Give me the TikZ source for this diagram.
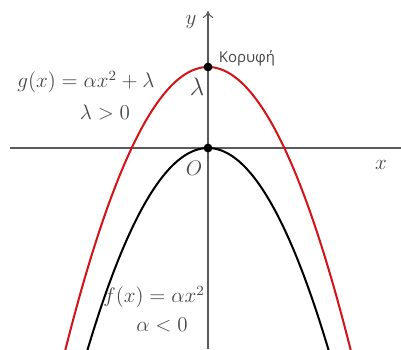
\documentclass[tikz,border=0pt]{standalone}
\usepackage{fontspec}
\newfontfamily\grsans{Open Sans}
\usetikzlibrary{arrows.meta}
\definecolor{cred}{RGB}{210,20,25}
\definecolor{ctext}{RGB}{70,70,70}
\definecolor{caxis}{RGB}{90,90,90}
\tikzset{
  axisline/.style={draw=caxis, line width=0.6pt},
  curve/.style={line width=1.15pt},
  dotnode/.style={circle, fill=black, inner sep=0pt, minimum size=5pt},
  lbl/.style={text=ctext, font=\fontsize{11.5}{13}\selectfont, inner sep=0pt},
}
\begin{document}
\begin{tikzpicture}[x=0.02cm, y=0.02cm]
\useasboundingbox (-208,-201) rectangle (193,148);
\clip (-208,-201) rectangle (193,148);
\coordinate (xl) at (-198,0);
\coordinate (xr) at (193,0);
\coordinate (yb) at (0,-201);
\coordinate (yt) at (0,137);
\draw[axisline] (xl) -- (xr);
\draw[axisline, -{To[length=4pt,width=6pt]}] (yb) -- (yt);
\draw[curve, cred] plot[domain=-145:145, samples=120] (\x, {81-1.39*(\x/10)*(\x/10)});
\draw[curve, black] plot[domain=-125:125, samples=120] (\x, {-1.39*(\x/10)*(\x/10)});
\node[dotnode] (V) at (0,81) {};
\node[dotnode] (O0) at (0,0) {};
\node[lbl] (ylab) at (-17,126) {$y$};
\node[lbl] (xlab) at (173,-17) {$x$};
\node[lbl] (olab) at (-14,-20) {$O$};
\node[lbl, font=\fontsize{14}{16}\selectfont] (lam) at (-11,61) {$\lambda$};
\node[text=ctext, font=\grsans\fontsize{8.5}{10}\selectfont, inner sep=0pt] (kor) at (39,90) {Κορυφή};
\node[lbl] (glab) at (-122,66) {$g(x)=\alpha x^2+\lambda$};
\node[lbl] (lpos) at (-103,36) {$\lambda>0$};
\node[lbl] (flab) at (-54,-149) {$f(x)=\alpha x^2$};
\node[lbl] (aneg) at (-46,-177) {$\alpha<0$};
\end{tikzpicture}
\end{document}
